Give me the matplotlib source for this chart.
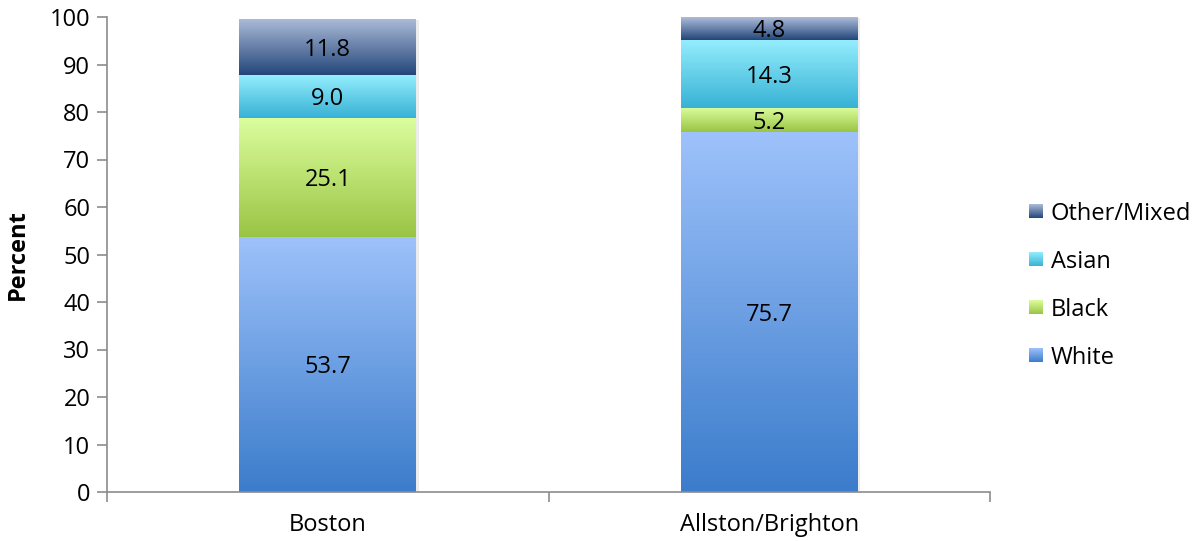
import numpy as np
import matplotlib.pyplot as plt
import matplotlib.patheffects as pe
from matplotlib.colors import LinearSegmentedColormap

plt.rcParams['font.family'] = ['Open Sans', 'DejaVu Sans']

# Racial composition, percent of population
places = ['Boston', 'Allston/Brighton']
groups = ['White', 'Black', 'Asian', 'Other/Mixed']
white = [53.7, 75.7]
black = [25.1, 5.2]
asian = [9.0, 14.3]
other = [11.8, 4.8]
values = [white, black, asian, other]

# (top colour, bottom colour) of each gradient fill
grads = {
    'White': ('#9ec2fb', '#3b7ccb'),
    'Black': ('#dcfe9e', '#9ac444'),
    'Asian': ('#94edfd', '#37b2d5'),
    'Other/Mixed': ('#adbcd9', '#23467a'),
}
fs = 17

fig = plt.figure(figsize=(12, 5.41), dpi=100)
ax = fig.add_axes([107 / 1200, 1 - 492 / 541, 883 / 1200, 475 / 541])

x = np.arange(len(places))
width = 0.4
grad = np.linspace(0, 1, 256).reshape(-1, 1)

# faint shadow behind each stacked column
totals = np.sum(values, axis=0)
ax.bar(x, totals, width, color='white', zorder=1,
       path_effects=[pe.SimplePatchShadow(offset=(2, -1), shadow_rgbFace='#999999', alpha=0.18),
                     pe.Normal()])

bottom = np.zeros(len(places))
for name, vals in zip(groups, values):
    cmap = LinearSegmentedColormap.from_list(name, [grads[name][1], grads[name][0]])
    bars = ax.bar(x, vals, width, bottom=bottom, color='none', zorder=2)
    for rect, v, b in zip(bars, vals, bottom):
        x0 = rect.get_x()
        im = ax.imshow(grad, cmap=cmap, aspect='auto', origin='lower',
                       extent=[x0, x0 + width, b, b + v], zorder=2)
        im.set_clip_path(rect)
        ax.text(x0 + width / 2, b + v / 2, f'{v:.1f}',
                ha='center', va='center_baseline', fontsize=fs, color='black', zorder=3)
    bottom = bottom + np.array(vals)

ax.set_xlim(-0.5, 1.5)
ax.set_ylim(0, 100)
ax.set_yticks(np.arange(0, 101, 10))
ax.set_xticks(x)
ax.set_xticklabels(places)
ax.set_xticks([-0.5, 0.5, 1.5], minor=True)

for s in ['top', 'right']:
    ax.spines[s].set_visible(False)
for s in ['left', 'bottom']:
    ax.spines[s].set_color('#8c8c8c')
    ax.spines[s].set_linewidth(1.2)

ax.tick_params(axis='y', length=7, width=1.2, color='#8c8c8c', labelsize=fs, pad=5)
ax.tick_params(axis='x', which='major', length=0, labelsize=fs, pad=15)
ax.tick_params(axis='x', which='minor', length=7, width=1.2, color='#8c8c8c')
ax.set_ylabel('Percent', fontsize=fs, fontweight='bold', labelpad=14)

# legend with gradient swatches, top entry first
ys = [211, 259, 307, 355]
for name, yc in zip(groups[::-1], ys):
    sw = fig.add_axes([1029 / 1200, 1 - (yc + 7) / 541, 14 / 1200, 14 / 541])
    cmap = LinearSegmentedColormap.from_list(name, [grads[name][1], grads[name][0]])
    sw.imshow(grad, cmap=cmap, aspect='auto', origin='lower')
    sw.axis('off')
    fig.text(1051 / 1200, 1 - yc / 541, name, fontsize=fs, va='center_baseline', ha='left')

fig.savefig('out.png', dpi=100)
